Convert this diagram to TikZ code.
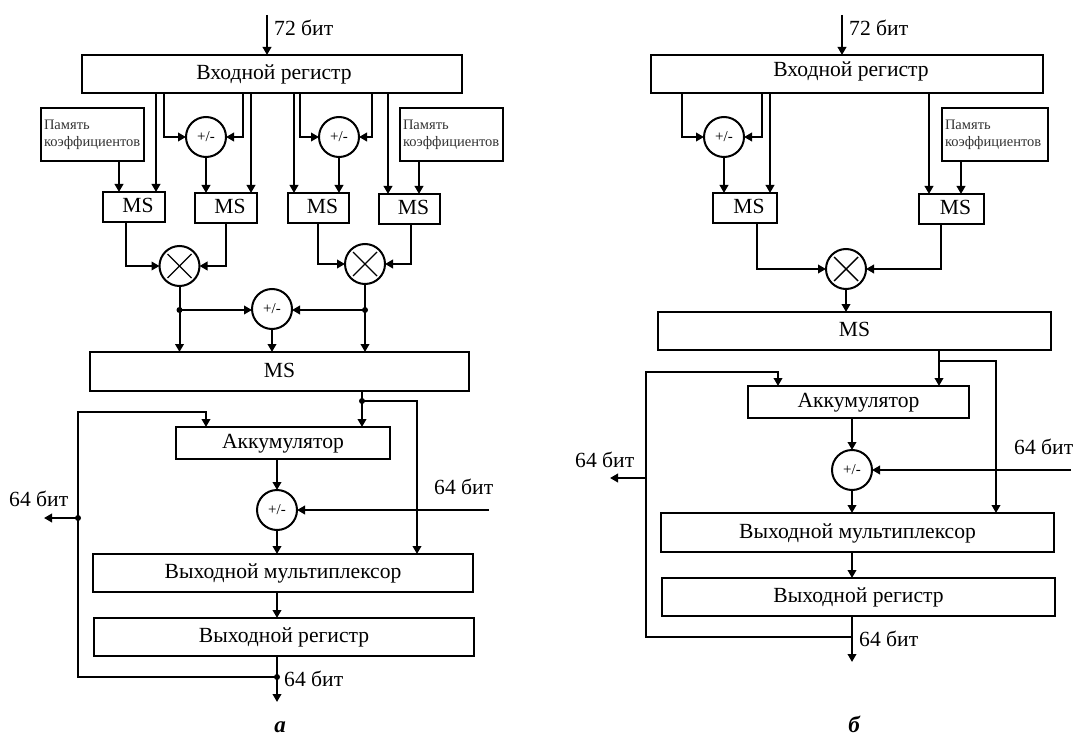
\documentclass[tikz,border=0pt]{standalone}
\usepackage{fontspec}
\setmainfont{Liberation Serif}
\usetikzlibrary{arrows.meta}
\newcommand{\bxn}[6]{\node[blk,blktxt,minimum width={(#4-#2)*1pt},minimum height={(#5-#3)*1pt}] (#1) at ({(#2+#4)/2},{(#3+#5)/2}) {#6};}
\newcommand{\hx}[1]{\hspace{#1pt}}
\newcommand{\crossin}[1]{\draw[thick line] (#1.center) ++(-12,-12) -- ++(24,24); \draw[thick line] (#1.center) ++(12,-12) -- ++(-24,24);}
\tikzset{
  x=1pt,y=-1pt,
  thick line/.style={line width=1.4pt},
  blk/.style={draw,line width=2pt,inner sep=0pt,outer sep=0pt,font=\fontsize{21.6}{24}\selectfont},
  blktxt/.style={text height=16.5pt,text depth=5pt},
  mem/.style={blk,align=left,font=\fontsize{14.5}{17}\selectfont,text=black!80},
  pm/.style={circle,draw,line width=2pt,minimum size=40pt,inner sep=0pt,outer sep=0pt,font=\fontsize{15}{17}\selectfont},
  dot/.style={circle,fill=black,minimum size=6pt,inner sep=0pt},
  lab/.style={anchor=base west,inner sep=0pt,font=\fontsize{21.6}{24}\selectfont},
  subcap/.style={anchor=base,inner sep=0pt,font=\fontsize{23}{25}\selectfont\bfseries\itshape},
  conn/.style={line width=2pt,-{Triangle[length=8pt,width=8.5pt]}},
  wire/.style={line width=2pt},
}
\begin{document}
\begin{tikzpicture}
\useasboundingbox (0,0) rectangle (1073,738);
\fill[white] (0,0) rectangle (1073,738);
% ---------- a ----------
\coordinate (ain) at (267,15);
\bxn{areg}{82}{55}{462}{93}{\hx{4}Входной регистр}
\node[lab] (a72) at (274,36) {72 бит};
\draw[conn] (ain) -- (areg.north -| ain);
\node[mem,minimum width=103pt,minimum height=53pt,text width=97pt] (amemL) at (92.5,134.5) {Память\\коэффициентов};
\node[mem,minimum width=103pt,minimum height=53pt,text width=97pt] (amemR) at (451.5,134.5) {Память\\коэффициентов};
\bxn{ams1}{103}{192}{165}{222}{\hx{8}MS}
\bxn{ams2}{195}{193}{257}{223}{\hx{8}MS}
\bxn{ams3}{288}{193}{349}{223}{\hx{8}MS}
\bxn{ams4}{379}{194}{440}{224}{\hx{8}MS}
\node[pm] (ac1) at (206,137) {+/-};
\node[pm] (ac2) at (339,137) {+/-};
\node[pm] (ax1) at (179.5,266) {};
\node[pm] (ax2) at (365,264) {};
\crossin{ax1}\crossin{ax2}
\node[pm] (ac3) at (272,309) {+/-};
\bxn{amsb}{90}{352}{469}{391}{MS}
\bxn{aacc}{176}{427}{390}{459}{Аккумулятор}
\node[pm] (ac4) at (277,510) {+/-};
\bxn{amux}{93}{554}{473}{592}{Выходной мультиплексор}
\bxn{aout}{94}{618}{474}{656}{Выходной регистр}
\draw[conn] (areg.south -| 156,0) -- (ams1.north -| 156,0);
\draw[conn] (areg.south -| 164,0) |- (ac1.west);
\draw[conn] (areg.south -| 243,0) |- (ac1.east);
\draw[conn] (areg.south -| 251,0) -- (ams2.north -| 251,0);
\draw[conn] (areg.south -| 294,0) -- (ams3.north -| 294,0);
\draw[conn] (areg.south -| 300,0) |- (ac2.west);
\draw[conn] (areg.south -| 372,0) |- (ac2.east);
\draw[conn] (areg.south -| 388,0) -- (ams4.north -| 388,0);
\draw[conn] (amemL.south -| 119,0) -- (ams1.north -| 119,0);
\draw[conn] (amemR.south -| 419,0) -- (ams4.north -| 419,0);
\draw[conn] (ac1.south) -- (ams2.north -| ac1.south);
\draw[conn] (ac2.south) -- (ams3.north -| ac2.south);
\draw[conn] (ams1.south -| 126,0) |- (ax1.west);
\draw[conn] (ams2.south -| 226,0) |- (ax1.east);
\draw[conn] (ams3.south -| 318,0) |- (ax2.west);
\draw[conn] (ams4.south -| 411,0) |- (ax2.east);
\node[dot] (aj1) at (179.5,310) {};
\node[dot] (aj2) at (365,310) {};
\draw[wire] (ax1.south) -- (aj1.center);
\draw[wire] (ax2.south) -- (aj2.center);
\draw[conn] (aj1.center) -- (ac3.west |- aj1.center);
\draw[conn] (aj2.center) -- (ac3.east |- aj2.center);
\draw[conn] (aj1.center) -- (amsb.north -| aj1.center);
\draw[conn] (aj2.center) -- (amsb.north -| aj2.center);
\draw[conn] (ac3.south) -- (amsb.north -| ac3.south);
\node[dot] (aj3) at (362,401) {};
\draw[wire] (amsb.south -| aj3) -- (aj3.center);
\draw[conn] (aj3.center) -- (aacc.north -| aj3);
\coordinate (abr) at (417,401);
\draw[conn] (aj3.center) -- (abr) -- (amux.north -| abr);
\draw[conn] (aacc.south -| ac4) -- (ac4.north);
\draw[conn] (ac4.south) -- (amux.north -| ac4);
\draw[conn] (amux.south -| ac4) -- (aout.north -| ac4);
\coordinate (ain2) at (489,510);
\draw[conn] (ain2) -- (ac4.east);
\node[lab] (a64r) at (434,494) {64 бит};
\coordinate (aend) at (277,702);
\node[dot] (aj4) at (277,677) {};
\draw[conn] (aout.south -| aend) -- (aend);
\coordinate (afb1) at (78,677);
\coordinate (afb2) at (78,412);
\coordinate (afb3) at (206,412);
\draw[conn] (aj4.center) -- (afb1) -- (afb2) -- (afb3) -- (aacc.north -| afb3);
\node[dot] (aj5) at (78,518) {};
\coordinate (aleft) at (44,518);
\draw[conn] (aj5.center) -- (aleft);
\node[lab] (a64l) at (9,506.5) {64 бит};
\node[lab] (a64b) at (284,686) {64 бит};
\node[subcap] (acap) at (280,732) {а};
% ---------- b ----------
\coordinate (bin) at (842,15);
\bxn{breg}{651}{55}{1043}{93}{\hx{8}\raisebox{3pt}{Входной регистр}}
\node[lab] (b72) at (849,36) {72 бит};
\draw[conn] (bin) -- (breg.north -| bin);
\node[mem,minimum width=106pt,minimum height=53pt,text width=100pt] (bmem) at (995,134.5) {Память\\коэффициентов};
\bxn{bms1}{713}{193}{777}{223}{\hx{8}MS}
\bxn{bms2}{919}{194}{984}{224}{\hx{8}MS}
\node[pm] (bc1) at (724,137) {+/-};
\node[pm] (bx) at (846,269) {};
\crossin{bx}
\bxn{bmsb}{658}{312}{1051}{350}{MS}
\bxn{bacc}{748}{386}{969}{418}{Аккумулятор}
\node[pm] (bc2) at (852,470) {+/-};
\bxn{bmux}{661}{513}{1054}{552}{Выходной мультиплексор}
\bxn{bout}{662}{578}{1055}{616}{Выходной регистр}
\draw[conn] (breg.south -| 682,0) |- (bc1.west);
\draw[conn] (breg.south -| 762,0) |- (bc1.east);
\draw[conn] (breg.south -| 770,0) -- (bms1.north -| 770,0);
\draw[conn] (breg.south -| 929,0) -- (bms2.north -| 929,0);
\draw[conn] (bmem.south -| 961,0) -- (bms2.north -| 961,0);
\draw[conn] (bc1.south) -- (bms1.north -| bc1.south);
\draw[conn] (bms1.south -| 757,0) |- (bx.west);
\draw[conn] (bms2.south -| 941,0) |- (bx.east);
\draw[conn] (bx.south) -- (bmsb.north -| bx.south);
\coordinate (bj) at (939,361);
\draw[conn] (bmsb.south -| bj) -- (bacc.north -| bj);
\coordinate (bbr) at (996,361);
\draw[conn] (bj) -- (bbr) -- (bmux.north -| bbr);
\draw[conn] (bacc.south -| bc2) -- (bc2.north);
\draw[conn] (bc2.south) -- (bmux.north -| bc2);
\draw[conn] (bmux.south -| bc2) -- (bout.north -| bc2);
\coordinate (bin2) at (1071,470);
\draw[conn] (bin2) -- (bc2.east);
\node[lab] (b64r) at (1014,454) {64 бит};
\coordinate (bend) at (852,662);
\draw[conn] (bout.south -| bend) -- (bend);
\coordinate (bj2) at (852,637);
\coordinate (bfb1) at (646,637);
\coordinate (bfb2) at (646,372);
\coordinate (bfb3) at (778,372);
\draw[conn] (bj2) -- (bfb1) -- (bfb2) -- (bfb3) -- (bacc.north -| bfb3);
\coordinate (bj3) at (646,478);
\coordinate (bleft) at (610,478);
\draw[conn] (bj3) -- (bleft);
\node[lab] (b64l) at (575,467) {64 бит};
\node[lab] (b64b) at (859,646) {64 бит};
\node[subcap] (bcap) at (854,732) {б};
\end{tikzpicture}
\end{document}
